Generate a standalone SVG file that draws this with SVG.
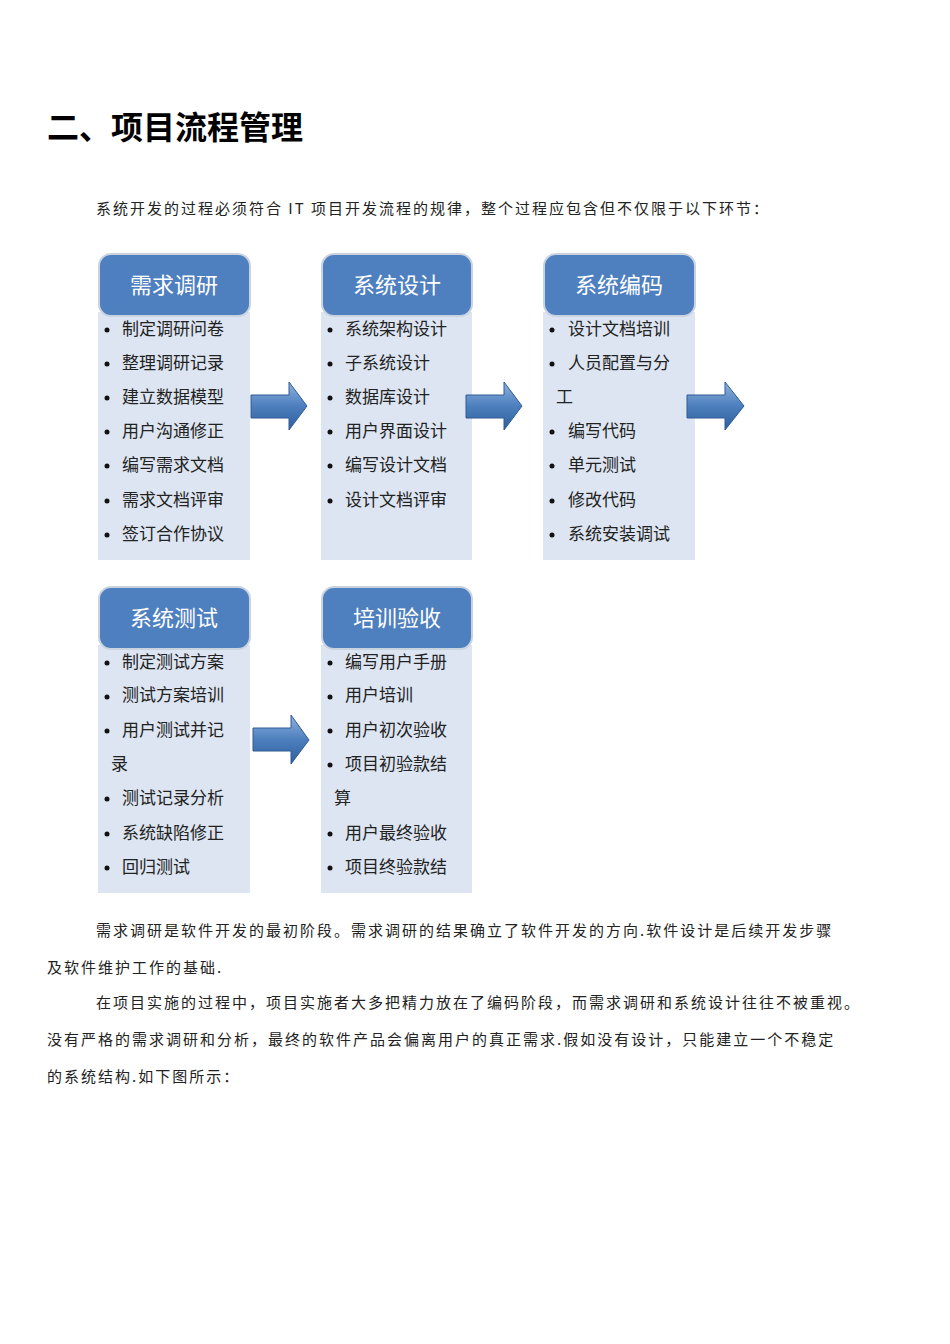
<svg xmlns="http://www.w3.org/2000/svg" width="950" height="1344" viewBox="0 0 950 1344">
<style>
text{font-family:"Noto Sans CJK SC","Liberation Sans",sans-serif;fill:#222}
.h{font-size:22px;fill:#fff;text-anchor:middle}
.i{font-size:17px}
.p{font-size:15px;letter-spacing:2px;font-family:"Noto Sans CJK SC",serif}
.body{fill:#dce5f1}
.hd{fill:#4e7fbf;stroke:#c9d3e0;stroke-width:2}
.ar{fill:url(#g);stroke:#2e5a94;stroke-width:1}
</style>
<defs>
<linearGradient id="g" x1="0" y1="0" x2="0" y2="1"><stop offset="0" stop-color="#8fb2dd"/><stop offset="0.5" stop-color="#4d7fbe"/><stop offset="1" stop-color="#2f5f9c"/></linearGradient>
</defs>
<rect width="950" height="1344" fill="#fff"/>
<text x="47" y="139" style="font-size:32px;font-weight:bold;fill:#000">二、项目流程管理</text>
<text x="96" y="214" class="p">系统开发的过程必须符合 IT 项目开发流程的规律，整个过程应包含但不仅限于以下环节：</text>

<g id="n1">
<rect x="98" y="312" width="152" height="248" class="body"/>
<rect x="99" y="254" width="151" height="62" rx="12" class="hd"/>
<text x="174" y="293" class="h">需求调研</text>
<g class="i"><text x="122" y="335">制定调研问卷</text><text x="122" y="369">整理调研记录</text><text x="122" y="403">建立数据模型</text><text x="122" y="437">用户沟通修正</text><text x="122" y="471">编写需求文档</text><text x="122" y="506">需求文档评审</text><text x="122" y="540">签订合作协议</text></g>
<g fill="#111"><circle cx="107" cy="330" r="2.5"/><circle cx="107" cy="364" r="2.5"/><circle cx="107" cy="398" r="2.5"/><circle cx="107" cy="432" r="2.5"/><circle cx="107" cy="466" r="2.5"/><circle cx="107" cy="501" r="2.5"/><circle cx="107" cy="535" r="2.5"/></g>
</g>
<g id="n2">
<rect x="321" y="312" width="151" height="248" class="body"/>
<rect x="322" y="254" width="150" height="62" rx="12" class="hd"/>
<text x="397" y="293" class="h">系统设计</text>
<g class="i"><text x="345" y="335">系统架构设计</text><text x="345" y="369">子系统设计</text><text x="345" y="403">数据库设计</text><text x="345" y="437">用户界面设计</text><text x="345" y="471">编写设计文档</text><text x="345" y="506">设计文档评审</text></g>
<g fill="#111"><circle cx="330" cy="330" r="2.5"/><circle cx="330" cy="364" r="2.5"/><circle cx="330" cy="398" r="2.5"/><circle cx="330" cy="432" r="2.5"/><circle cx="330" cy="466" r="2.5"/><circle cx="330" cy="501" r="2.5"/></g>
</g>
<g id="n3">
<rect x="543" y="312" width="152" height="248" class="body"/>
<rect x="544" y="254" width="151" height="62" rx="12" class="hd"/>
<text x="619" y="293" class="h">系统编码</text>
<g class="i"><text x="568" y="335">设计文档培训</text><text x="568" y="369">人员配置与分</text><text x="556" y="403">工</text><text x="568" y="437">编写代码</text><text x="568" y="471">单元测试</text><text x="568" y="506">修改代码</text><text x="568" y="540">系统安装调试</text></g>
<g fill="#111"><circle cx="552" cy="330" r="2.5"/><circle cx="552" cy="364" r="2.5"/><circle cx="552" cy="432" r="2.5"/><circle cx="552" cy="466" r="2.5"/><circle cx="552" cy="501" r="2.5"/><circle cx="552" cy="535" r="2.5"/></g>
</g>
<g id="n4">
<rect x="98" y="645" width="152" height="248" class="body"/>
<rect x="99" y="587" width="151" height="62" rx="12" class="hd"/>
<text x="174" y="626" class="h">系统测试</text>
<g class="i"><text x="122" y="668">制定测试方案</text><text x="122" y="701">测试方案培训</text><text x="122" y="736">用户测试并记</text><text x="111" y="770">录</text><text x="122" y="804">测试记录分析</text><text x="122" y="839">系统缺陷修正</text><text x="122" y="873">回归测试</text></g>
<g fill="#111"><circle cx="107" cy="663" r="2.5"/><circle cx="107" cy="697" r="2.5"/><circle cx="107" cy="731" r="2.5"/><circle cx="107" cy="799" r="2.5"/><circle cx="107" cy="834" r="2.5"/><circle cx="107" cy="868" r="2.5"/></g>
</g>
<g id="n5">
<rect x="321" y="645" width="151" height="248" class="body"/>
<rect x="322" y="587" width="150" height="62" rx="12" class="hd"/>
<text x="397" y="626" class="h">培训验收</text>
<g class="i"><text x="345" y="668">编写用户手册</text><text x="345" y="701">用户培训</text><text x="345" y="736">用户初次验收</text><text x="345" y="770">项目初验款结</text><text x="334" y="804">算</text><text x="345" y="839">用户最终验收</text><text x="345" y="873">项目终验款结</text></g>
<g fill="#111"><circle cx="330" cy="663" r="2.5"/><circle cx="330" cy="697" r="2.5"/><circle cx="330" cy="731" r="2.5"/><circle cx="330" cy="765" r="2.5"/><circle cx="330" cy="834" r="2.5"/><circle cx="330" cy="868" r="2.5"/></g>
</g>
<g id="connectors">
<path class="ar" d="M251,395 H289 V382 L307,406 L289,430 V418 H251 Z"/>
<path class="ar" d="M466,395 H504 V382 L522,406 L504,430 V418 H466 Z"/>
<path class="ar" d="M687,395 H725 V382 L744,406 L725,430 V418 H687 Z"/>
<path class="ar" d="M253,728 H291 V715 L309,740 L291,764 V751 H253 Z"/>
</g>
<g class="p">
<text x="96" y="936">需求调研是软件开发的最初阶段。需求调研的结果确立了软件开发的方向.软件设计是后续开发步骤</text>
<text x="47" y="973">及软件维护工作的基础.</text>
<text x="96" y="1008">在项目实施的过程中，项目实施者大多把精力放在了编码阶段，而需求调研和系统设计往往不被重视。</text>
<text x="47" y="1045">没有严格的需求调研和分析，最终的软件产品会偏离用户的真正需求.假如没有设计，只能建立一个不稳定</text>
<text x="47" y="1082">的系统结构.如下图所示：</text>
</g>
</svg>
